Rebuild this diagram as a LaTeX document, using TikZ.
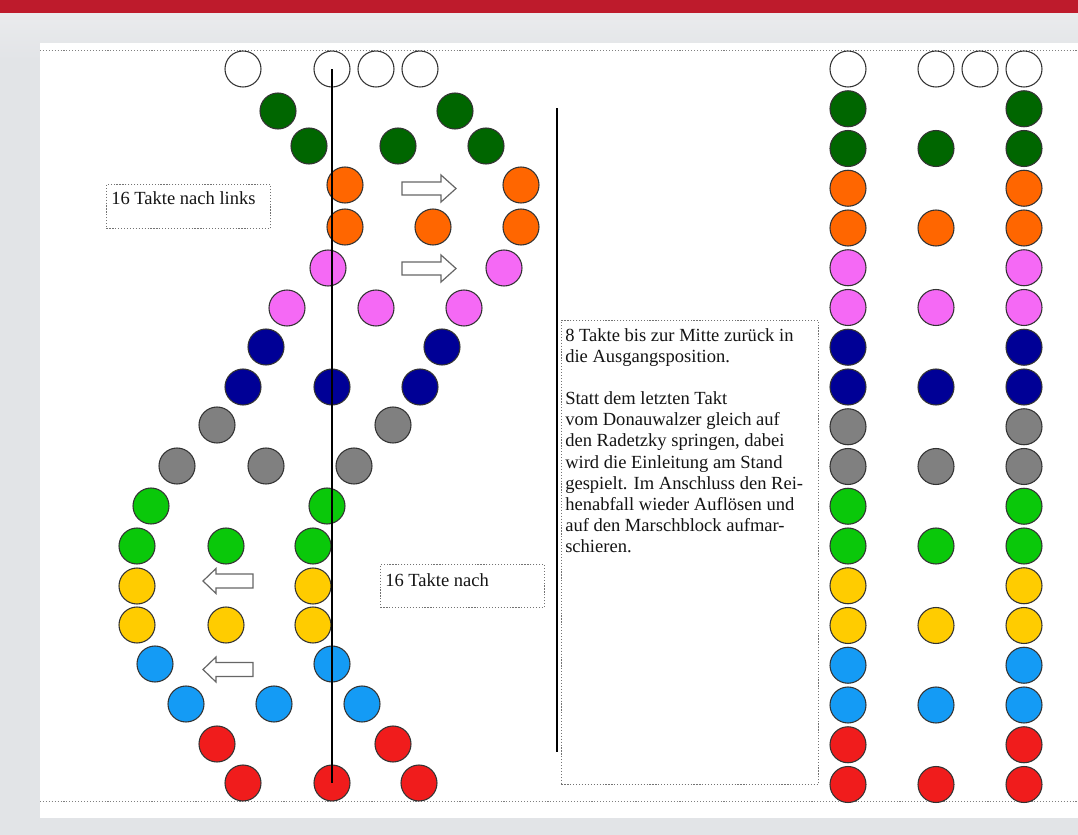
\documentclass[tikz,border=0pt]{standalone}
\usepackage{fontspec}
\setmainfont{Liberation Serif}
\definecolor{bgcol}{RGB}{226,228,231}
\definecolor{bgtop}{RGB}{234,235,237}
\definecolor{redband}{RGB}{190,27,44}
\definecolor{cwhite}{RGB}{255,255,255}
\definecolor{cdkgreen}{RGB}{0,102,0}
\definecolor{corange}{RGB}{255,102,0}
\definecolor{cpink}{RGB}{245,105,245}
\definecolor{cnavy}{RGB}{0,0,150}
\definecolor{cgray}{RGB}{128,128,128}
\definecolor{cgreen}{RGB}{10,200,10}
\definecolor{cyellow}{RGB}{255,204,0}
\definecolor{cblue}{RGB}{20,155,245}
\definecolor{cred}{RGB}{240,28,28}
\definecolor{txtcol}{RGB}{20,20,20}
\newcommand\dotrow[4]{%
  \foreach \xx [count=\kk] in {#4} {\node[dot, fill=#3] (L#1-\kk) at (\xx,#2) {};}}
\begin{document}
\begin{tikzpicture}[x=0.75pt,y=-0.75pt,
  dot/.style={circle, draw=black!80, line width=0.8pt, minimum size=27pt, inner sep=0pt},
  vline/.style={draw=black, line width=0.9pt},
  hdots/.style={draw=black!50, line width=0.7pt, dash pattern=on 0.8pt off 1.4pt},
  tbox/.style={draw=black!55, line width=0.65pt, dash pattern=on 0.9pt off 1.3pt, inner sep=0pt, anchor=north west},
  txt/.style={font=\fontsize{13.9}{15.8}\selectfont, text=txtcol, inner sep=0pt, anchor=north west, align=left},
  arrowline/.style={draw=black!60, line width=0.9pt, fill=white, line join=miter},
  rarrow/.pic={\path[arrowline] (-27,-6.5) -- (12,-6.5) -- (12,-13.5) -- (27,0) -- (12,13.5) -- (12,6.5) -- (-27,6.5) -- cycle;},
  larrow/.pic={\path[arrowline] (25,-7) -- (-12,-7) -- (-12,-12.5) -- (-25,0) -- (-12,12.5) -- (-12,7) -- (25,7) -- cycle;}
]
\useasboundingbox (0,0) rectangle (1078,835);
% background
\fill[bgcol] (0,0) rectangle (1078,835);
\shade[top color=bgtop, bottom color=bgcol] (0,13) rectangle (1078,60);
\fill[redband] (0,0) rectangle (1078,13);
\fill[white] (40,43) rectangle (1078,818);
% dotted page lines
\coordinate (dt1) at (40,50.5);
\coordinate (dt2) at (1078,50.5);
\coordinate (db1) at (40,801);
\coordinate (db2) at (1078,801);
\draw[hdots] (dt1) -- (dt2);
\draw[hdots] (db1) -- (db2);

% left formation
\dotrow{0}{69}{cwhite}{243,332,376,420}
\dotrow{1}{111}{cdkgreen}{278,455}
\dotrow{2}{146}{cdkgreen}{309,398,486}
\dotrow{3}{185}{corange}{345,521}
\dotrow{4}{227}{corange}{345,433,521}
\dotrow{5}{268}{cpink}{328,504}
\dotrow{6}{308}{cpink}{287,376,464}
\dotrow{7}{347}{cnavy}{266,442}
\dotrow{8}{387}{cnavy}{243,332,420}
\dotrow{9}{425}{cgray}{217,393}
\dotrow{10}{466}{cgray}{177,266,354}
\dotrow{11}{506}{cgreen}{151,327}
\dotrow{12}{546}{cgreen}{137,226,313}
\dotrow{13}{586}{cyellow}{137,313}
\dotrow{14}{625}{cyellow}{137,226,313}
\dotrow{15}{664}{cblue}{155,332}
\dotrow{16}{704}{cblue}{186,274,362}
\dotrow{17}{744}{cred}{217,393}
\dotrow{18}{783}{cred}{243,332,419}

% centre line of the left formation
\draw[vline] (L0-2.center) -- (L18-2.center);

% arrows
\pic (ar1) at (429,188.5) {rarrow};
\pic (ar2) at (429,268.5) {rarrow};
\pic (al1) at (228,581) {larrow};
\pic (al2) at (228,669.5) {larrow};

% separator line
\coordinate (sep1) at (557,108);
\coordinate (sep2) at (557,752);
\draw[vline] (sep1) -- (sep2);

% text boxes
\node[tbox, minimum width=123pt, minimum height=33pt] (box1) at (106,184) {};
\node[txt] (t1) at (111,191.5) {16 Takte nach links};
\node[tbox, minimum width=123pt, minimum height=32.25pt] (box2) at (380,564) {};
\node[txt] (t2) at (385,573.5) {16 Takte nach};
\node[tbox, minimum width=192.75pt, minimum height=348pt] (box3) at (561,320) {};
\node[txt] (t3) at (565,328.5) {8 Takte bis zur Mitte zurück in\\
die Ausgangsposition.\\[15.8pt]
Statt dem letzten Takt\\
vom Donauwalzer gleich auf\\
den Radetzky springen, dabei\\
wird die Einleitung am Stand\\
gespielt. Im Anschluss den Rei-\\
henabfall wieder Auflösen und\\
auf den Marschblock aufmar-\\
schieren.};

% right formations
\foreach \c [count=\k from 0] in {cwhite,cdkgreen,cdkgreen,corange,corange,cpink,cpink,cnavy,cnavy,cgray,cgray,cgreen,cgreen,cyellow,cyellow,cblue,cblue,cred,cred} {
  \node[dot, fill=\c] (A\k) at (848,{69+39.75*\k}) {};
  \node[dot, fill=\c] (C\k) at (1024,{69+39.75*\k}) {};
}
\foreach \c [count=\k from 0] in {cwhite,cdkgreen,corange,cpink,cnavy,cgray,cgreen,cyellow,cblue,cred} {
  \node[dot, fill=\c] (B\k) at (936,{69+79.5*\k}) {};
}
\node[dot, fill=cwhite] (W1) at (980,69) {};
\end{tikzpicture}
\end{document}
